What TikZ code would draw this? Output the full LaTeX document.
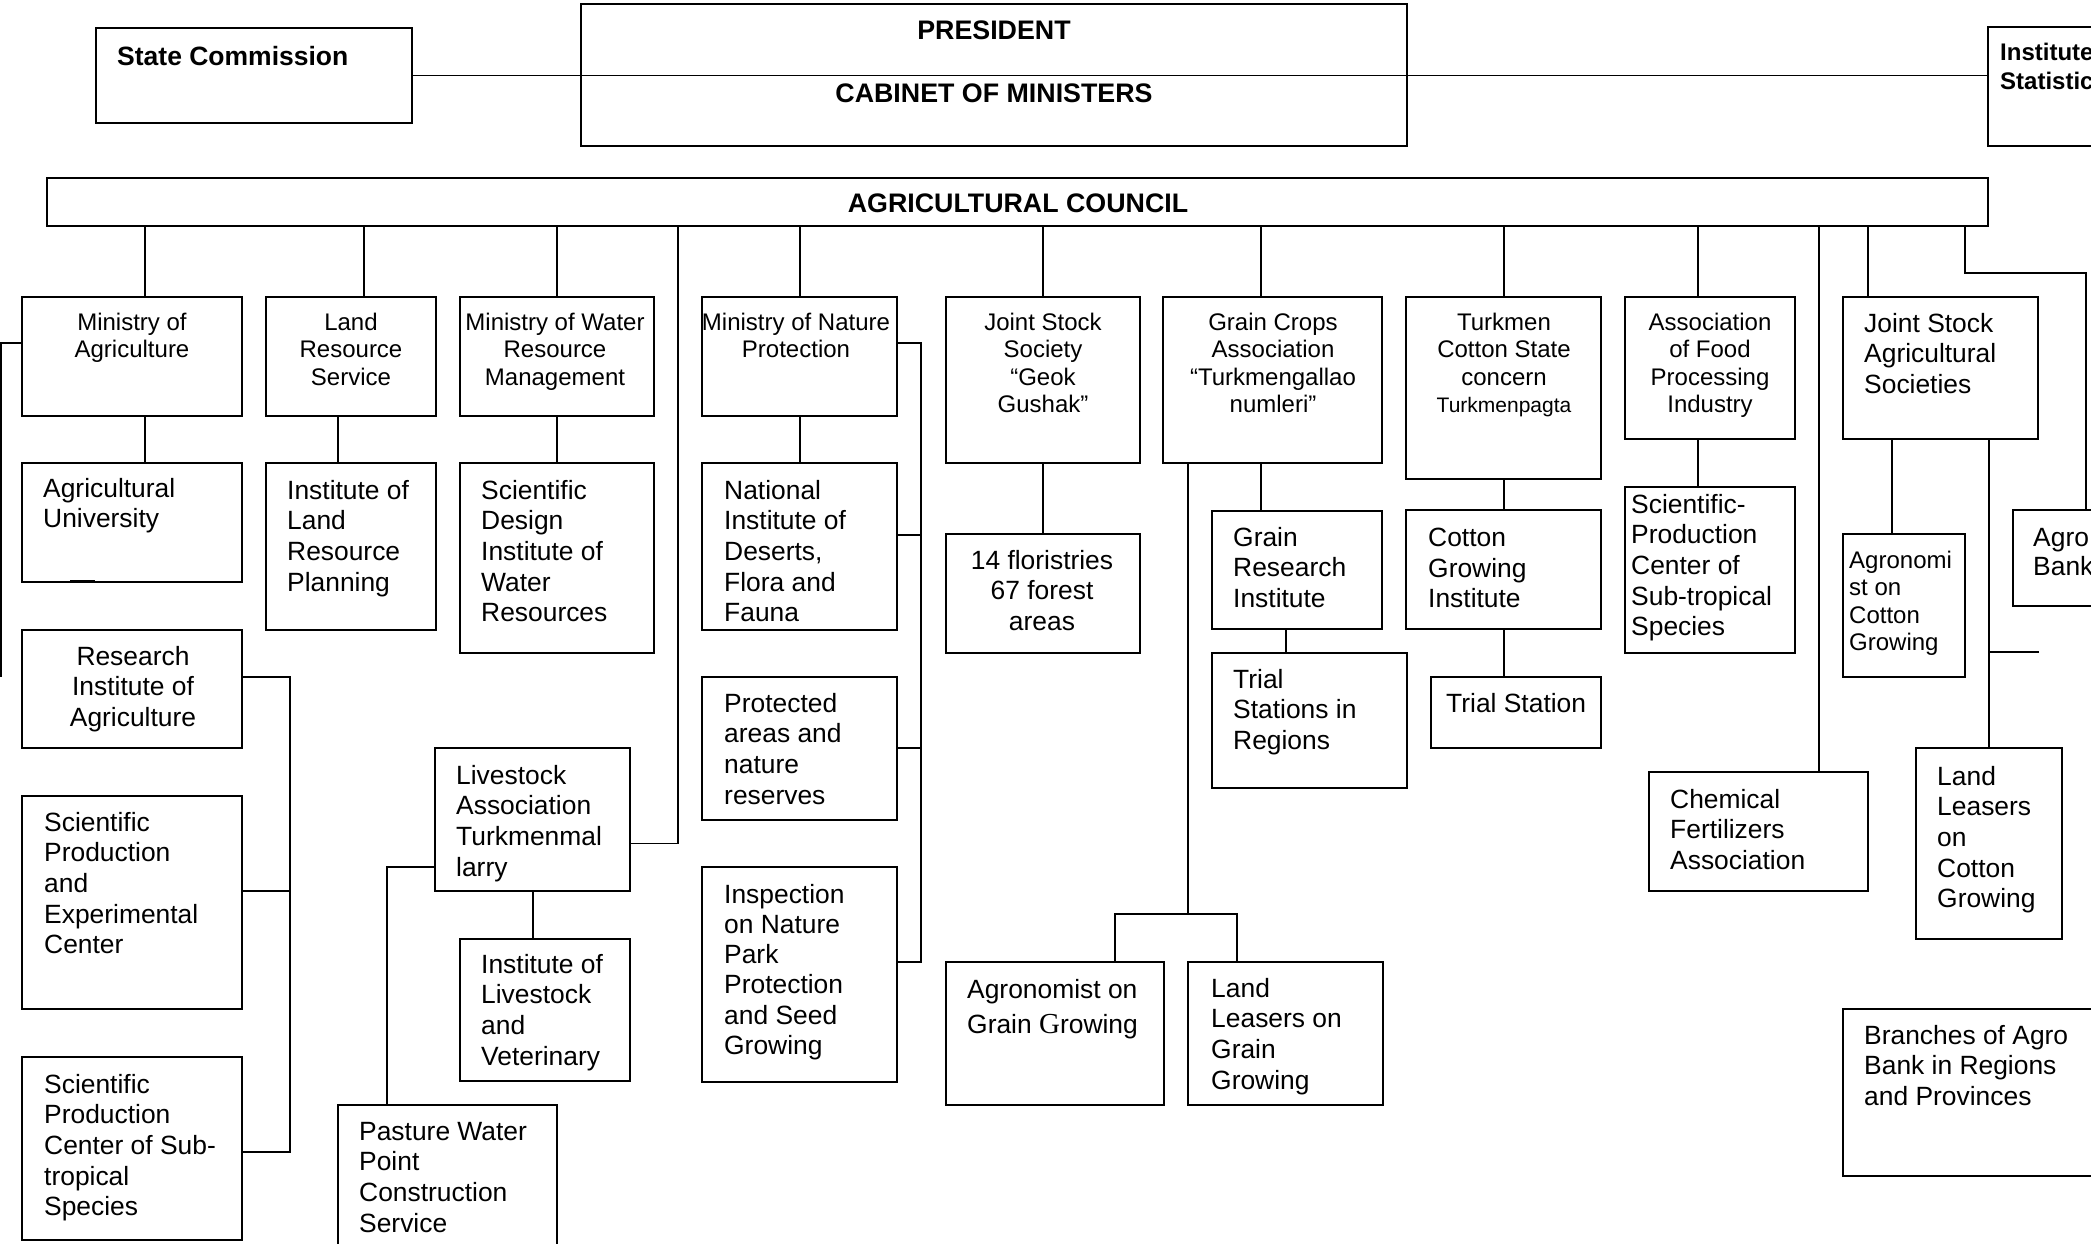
\documentclass[tikz,border=0pt]{standalone}
\usepackage{fontspec}
\setmainfont{Liberation Sans}
\newfontfamily\timesG{Liberation Serif}
\usetikzlibrary{positioning, fit}
\tikzset{>=stealth}

\begin{document}
\begin{tikzpicture}[x=1pt, y=-1pt,
        unit/.style={draw, line width=2pt, inner sep=0pt},
        link/.style={line width=1.6pt},
        head/.style={inner sep=0pt, anchor=north, font=\fontsize{26.8}{30}\selectfont\bfseries},
        lead/.style={inner sep=0pt, anchor=north, align=center, font=\fontsize{24}{27.3}\selectfont},
        txt/.style={inner sep=0pt, anchor=north west, align=left, font=\fontsize{26.4}{30.6}\selectfont}]

        \useasboundingbox (0,0) rectangle (2091,1244);
        \clip (0,0) rectangle (2091,1244);

        \node[unit, fit={(96,28) (412,123)}] (sc) {};
        \node[head, anchor=north west, font=\fontsize{26.5}{30}\selectfont\bfseries] (sct) at (117,46) {State Commission};
        \node[unit, fit={(581,4) (1407,146)}] (pres) {};
        \node[head] (prest) at (994,21) {PRESIDENT};
        \node[head] (cabt) at (994,84) {CABINET OF MINISTERS};
        \node[unit, fit={(1988,27) (2120,146)}] (stat) {};
        \node[head, anchor=north west, align=left, font=\fontsize{24}{28.5}\selectfont\bfseries] (statt) at (2000,43) {Institute of\\Statistics};
        \node[unit, fit={(47,178) (1988,226)}] (council) {};
        \node[head] (councilt) at (1018,194) {AGRICULTURAL COUNCIL};

        \node[unit, fit={(22,297) (242,416)}] (moa) {};
        \node[lead] (moat) at (132,313) {Ministry of\\Agriculture};
        \node[unit, fit={(266,297) (436,416)}] (lrs) {};
        \node[lead] (lrst) at (351,313) {Land\\Resource\\Service};
        \node[unit, fit={(460,297) (654,416)}] (mwr) {};
        \node[lead] (mwrt) at (555,313) {Ministry of Water\\Resource\\Management};
        \node[unit, fit={(702,297) (897,416)}] (mnp) {};
        \node[lead] (mnpt) at (796,313) {Ministry of Nature\\Protection};
        \node[unit, fit={(946,297) (1140,463)}] (geok) {};
        \node[lead] (geokt) at (1043,313) {Joint Stock\\Society\\“Geok\\Gushak”};
        \node[unit, fit={(1163,297) (1382,463)}] (gca) {};
        \node[lead] (gcat) at (1273,313) {Grain Crops\\Association\\“Turkmengallao\\numleri”};
        \node[unit, fit={(1406,297) (1601,479)}] (tcs) {};
        \node[lead] (tcst) at (1504,313) {Turkmen\\Cotton State\\concern\\{\fontsize{21}{27.3}\selectfont Turkmenpagta}};
        \node[unit, fit={(1625,297) (1795,439)}] (afp) {};
        \node[lead] (afpt) at (1710,313) {Association\\of Food\\Processing\\Industry};
        \node[unit, fit={(1843,297) (2038,439)}] (jsa) {};
        \node[txt] (jsat) at (1864,313) {Joint Stock\\Agricultural\\Societies};

        \node[unit, fit={(22,463) (242,582)}] (au) {};
        \node[txt] (aut) at (43,478) {Agricultural\\University};
        \node[unit, fit={(266,463) (436,630)}] (ilrp) {};
        \node[txt] (ilrpt) at (287,480) {Institute of\\Land\\Resource\\Planning};
        \node[unit, fit={(460,463) (654,653)}] (sdi) {};
        \node[txt] (sdit) at (481,480) {Scientific\\Design\\Institute of\\Water\\Resources};
        \node[unit, fit={(702,463) (897,630)}] (nid) {};
        \node[txt] (nidt) at (724,480) {National\\Institute of\\Deserts,\\Flora and\\Fauna};
        \node[unit, fit={(946,534) (1140,653)}] (flor) {};
        \node[lead, font=\fontsize{26.4}{30.6}\selectfont] (flort) at (1042,550) {14 floristries\\67 forest\\areas};
        \node[unit, fit={(1212,511) (1382,629)}] (gri) {};
        \node[txt] (grit) at (1233,527) {Grain\\Research\\Institute};
        \node[unit, fit={(1212,653) (1407,788)}] (tsr) {};
        \node[txt] (tsrt) at (1233,669) {Trial\\Stations in\\Regions};
        \node[unit, fit={(1406,510) (1601,629)}] (cgi) {};
        \node[txt] (cgit) at (1428,528) {Cotton\\Growing\\Institute};
        \node[unit, fit={(1431,677) (1601,748)}] (ts) {};
        \node[txt] (tst) at (1446,693) {Trial Station};
        \node[unit, fit={(1625,487) (1795,653)}] (spc) {};
        \node[txt] (spct) at (1631,494) {Scientific-\\Production\\Center of\\Sub-tropical\\Species};
        \node[unit, fit={(1843,534) (1965,677)}] (agc) {};
        \node[txt, font=\fontsize{24}{27.3}\selectfont] (agct) at (1849,551) {Agronomi\\st on\\Cotton\\Growing};
        \node[unit, fit={(2013,510) (2120,606)}] (agb) {};
        \node[txt, font=\fontsize{26.4}{29.5}\selectfont] (agbt) at (2033,528) {Agro\\Bank};

        \node[unit, fit={(22,630) (242,748)}] (ria) {};
        \node[lead, font=\fontsize{26.4}{30.6}\selectfont] (riat) at (133,646) {Research\\Institute of\\Agriculture};
        \node[unit, fit={(22,796) (242,1009)}] (spe) {};
        \node[txt] (spet) at (44,812) {Scientific\\Production\\and\\Experimental\\Center};
        \node[unit, fit={(22,1057) (242,1240)}] (spst) {};
        \node[txt] (spstt) at (44,1074) {Scientific\\Production\\Center of Sub-\\tropical\\Species};
        \node[unit, fit={(435,748) (630,891)}] (lat) {};
        \node[txt] (latt) at (456,765) {Livestock\\Association\\Turkmenmal\\larry};
        \node[unit, fit={(460,939) (630,1081)}] (ilv) {};
        \node[txt] (ilvt) at (481,954) {Institute of\\Livestock\\and\\Veterinary};
        \node[unit, fit={(338,1105) (557,1270)}] (pwp) {};
        \node[txt] (pwpt) at (359,1122) {Pasture Water\\Point\\Construction\\Service};
        \node[unit, fit={(702,677) (897,820)}] (pan) {};
        \node[txt] (pant) at (724,693) {Protected\\areas and\\nature\\reserves};
        \node[unit, fit={(702,867) (897,1082)}] (inp) {};
        \node[txt, font=\fontsize{26.4}{30.2}\selectfont] (inpt) at (724,884) {Inspection\\on Nature\\Park\\Protection\\and Seed\\Growing};
        \node[unit, fit={(946,962) (1164,1105)}] (agg) {};
        \node[txt, font=\fontsize{26.4}{35}\selectfont] (aggt) at (967,979) {Agronomist on\\Grain {\timesG\fontsize{29}{35}\selectfont G}rowing};
        \node[unit, fit={(1188,962) (1383,1105)}] (llg) {};
        \node[txt] (llgt) at (1211,978) {Land\\Leasers on\\Grain\\Growing};
        \node[unit, fit={(1649,772) (1868,891)}] (cfa) {};
        \node[txt] (cfat) at (1670,789) {Chemical\\Fertilizers\\Association};
        \node[unit, fit={(1916,748) (2062,939)}] (llc) {};
        \node[txt] (llct) at (1937,766) {Land\\Leasers\\on\\Cotton\\Growing};
        \node[unit, fit={(1843,1009) (2120,1176)}] (bab) {};
        \node[txt] (babt) at (1864,1025) {Branches of Agro\\Bank in Regions\\and Provinces};

        \coordinate (lim) at (1,677);
        \coordinate (stub) at (2039,652);

        \draw[link] (sc.east) -- (sc.east -| stat.west);
        \draw[link] (council.south -| 145,0) -- (moa.north -| 145,0);
        \draw[link] (council.south -| 364,0) -- (lrs.north -| 364,0);
        \draw[link] (council.south -| 557,0) -- (mwr.north -| 557,0);
        \draw[link] (council.south -| 678,0) |- ([shift={(0,24)}]lat.east);
        \draw[link] (council.south -| 800,0) -- (mnp.north -| 800,0);
        \draw[link] (council.south -| 1043,0) -- (geok.north -| 1043,0);
        \draw[link] (council.south -| 1261,0) -- (gca.north -| 1261,0);
        \draw[link] (council.south -| 1504,0) -- (tcs.north -| 1504,0);
        \draw[link] (council.south -| 1698,0) -- (afp.north -| 1698,0);
        \draw[link] (council.south -| 1819,0) -- (cfa.north -| 1819,0);
        \draw[link] (council.south -| 1868,0) -- (jsa.north -| 1868,0);
        \draw[link] (council.south -| 1965,0) |- (2086,273) -- (agb.north -| 2086,0);

        \draw[link] (moa.south -| 145,0) -- (au.north -| 145,0);
        \draw[link] (moa.west |- 0,343) -| (lim);
        \draw[link] (lrs.south -| 338,0) -- (ilrp.north -| 338,0);
        \draw[link] (mwr.south -| 557,0) -- (sdi.north -| 557,0);
        \draw[link] (mnp.south -| 800,0) -- (nid.north -| 800,0);
        \draw[link] (mnp.east |- 0,343) -| (921,962) -- (inp.east |- 0,962);
        \draw[link] (nid.east |- 0,535) -- (921,535);
        \draw[link] (pan.east |- 0,748) -- (921,748);
        \draw[link] (geok.south -| 1043,0) -- (flor.north -| 1043,0);
        \draw[link] (gca.south -| 1261,0) -- (gri.north -| 1261,0);
        \draw[link] (gri.south -| 1286,0) -- (tsr.north -| 1286,0);
        \draw[link] (gca.south -| 1188,0) -- (1188,914);
        \draw[link] (agg.north -| 1115,0) -- (1115,914) -- (1237,914) -- (llg.north -| 1237,0);
        \draw[link] (tcs.south -| 1504,0) -- (cgi.north -| 1504,0);
        \draw[link] (cgi.south -| 1504,0) -- (ts.north -| 1504,0);
        \draw[link] (afp.south -| 1698,0) -- (spc.north -| 1698,0);
        \draw[link] (jsa.south -| 1892,0) -- (agc.north -| 1892,0);
        \draw[link] (jsa.south -| 1989,0) -- (llc.north -| 1989,0);
        \draw[link] (stub) -- (stub -| 1989,0);
        \draw[link] (ria.east |- 0,677) -| (290,1152) -- (spst.east |- 0,1152);
        \draw[link] (spe.east |- 0,891) -- (290,891);
        \draw[link] (lat.south -| 533,0) -- (ilv.north -| 533,0);
        \draw[link] (lat.west |- 0,867) -| (pwp.north -| 387,0);
        \draw[line width=2pt] ([shift={(49,-2)}]au.south west) -- ++(25,0);
\end{tikzpicture}
\end{document}
